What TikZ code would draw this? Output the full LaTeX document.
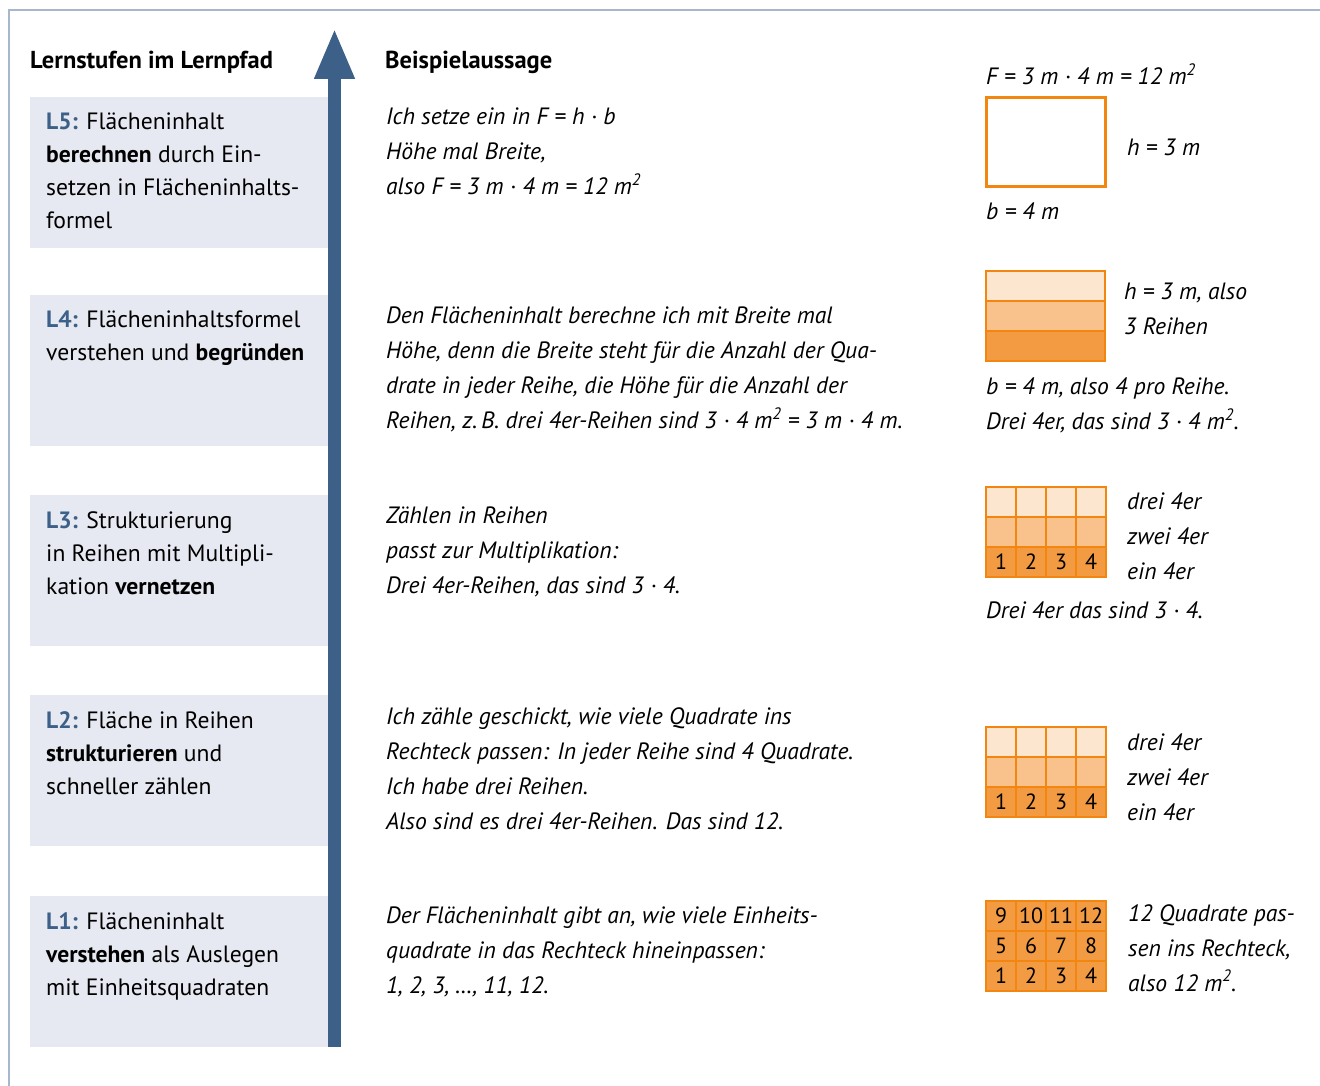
\documentclass[tikz,border=0pt]{standalone}
\usepackage{fontspec}
\setmainfont{PT Sans}
\usetikzlibrary{arrows.meta}
\definecolor{pfadblau}{HTML}{3C6087}
\definecolor{rahmen}{HTML}{A8B7CB}
\definecolor{stufegrau}{HTML}{E6E9F1}
\definecolor{kante}{HTML}{F2860F}
\definecolor{hell}{HTML}{FDE6CF}
\definecolor{mittel}{HTML}{F9C18B}
\definecolor{dunkel}{HTML}{F29B42}
\tikzset{
  stufe/.style={anchor=north west,inner sep=0,align=left,font=\fontsize{23.6}{33}\selectfont},
  hand/.style={anchor=north west,inner sep=0,align=left,font=\fontsize{23.6}{35}\selectfont\itshape},
  kopf/.style={anchor=west,inner sep=0,font=\fontsize{24.5}{28}\selectfont\bfseries},
  zahl/.style={inner sep=0,font=\fontsize{22}{24}\selectfont},
  zelle/.style={draw=kante,line width=2pt},
}
\newcommand{\lstufe}[1]{\textcolor{pfadblau}{\bfseries #1}}

\begin{document}
\begin{tikzpicture}[x=1pt,y=-1pt]
            \useasboundingbox (0,0) rectangle (1320,1086);
            \fill[white] (0,0) rectangle (1320,1086);
            \draw[rahmen,line width=1.5pt] (9,1086)--(9,10)--(1320,10);
            % Stufen links
            \foreach \y in {97,295,495,695,896}
                \fill[stufegrau] (30,\y) rectangle (328,\y+151);
            \draw[pfadblau,line width=13pt,-{Triangle[width=37pt,length=51pt]}] (334.5,1047)--(334.5,28);
            \node[kopf] (kopfstufen) at (30,62) {Lernstufen im Lernpfad};
            \node[kopf] (kopfbsp) at (385,62) {Beispielaussage};
            \node[stufe] (l5) at (46,113) {\lstufe{L5:} Flächeninhalt\\\textbf{berechnen} durch Ein-\\setzen in Flächeninhalts-\\formel};
            \node[stufe] (l4) at (46,311) {\lstufe{L4:} Flächeninhaltsformel\\verstehen und \textbf{begründen}};
            \node[stufe] (l3) at (46,511) {\lstufe{L3:} Strukturierung\\in Reihen mit Multipli-\\kation \textbf{vernetzen}};
            \node[stufe] (l2) at (46,711) {\lstufe{L2:} Fläche in Reihen\\\textbf{strukturieren} und\\schneller zählen};
            \node[stufe] (l1) at (46,912) {\lstufe{L1:} Flächeninhalt\\\textbf{verstehen} als Auslegen\\mit Einheitsquadraten};
            % Beispielaussagen
            \node[hand] (bsp5) at (386,108) {Ich setze ein in F = h · b\\Höhe mal Breite,\\also F = 3 m · 4 m = 12 m\textsuperscript{2}};
            \node[hand] (bsp4) at (386,307) {Den Flächeninhalt berechne ich mit Breite mal\\Höhe, denn die Breite steht für die Anzahl der Qua-\\drate in jeder Reihe, die Höhe für die Anzahl der\\Reihen, z.\,B. drei 4er-Reihen sind 3 · 4 m\textsuperscript{2} = 3 m · 4 m.};
            \node[hand] (bsp3) at (386,507) {Zählen in Reihen\\passt zur Multiplikation:\\Drei 4er-Reihen, das sind 3 · 4.};
            \node[hand] (bsp2) at (386,707) {Ich zähle geschickt, wie viele Quadrate ins\\Rechteck passen: In jeder Reihe sind 4 Quadrate.\\Ich habe drei Reihen.\\Also sind es drei 4er-Reihen. Das sind 12.};
            \node[hand] (bsp1) at (386,907) {Der Flächeninhalt gibt an, wie viele Einheits-\\quadrate in das Rechteck hineinpassen:\\1, 2, 3, …, 11, 12.};
            % L5: Rechteck
            \node[hand] (formel5) at (986,64) {F = 3 m · 4 m = 12 m\textsuperscript{2}};
            \draw[kante,line width=3pt] (986,98) rectangle (1105,187);
            \node[hand] (hoehe5) at (1127,139) {h = 3 m};
            \node[hand] (breite5) at (986,203) {b = 4 m};
            % L4: drei Reihen
            \foreach \r/\f in {0/hell,1/mittel,2/dunkel}
                \draw[zelle,fill=\f] (986,271+30*\r) rectangle ++(119,30);
            \node[hand] (hoehe4) at (1124,283) {h = 3 m, also\\3 Reihen};
            \node[hand] (breite4) at (986,378) {b = 4 m, also 4 pro Reihe.\\Drei 4er, das sind 3 · 4 m\textsuperscript{2}.};
            % L3 und L2: Raster mit 4er-Reihen
            \foreach \y in {487,727}
                \foreach \r/\f in {0/hell,1/mittel,2/dunkel}
                    \foreach \c in {0,...,3}
                        \draw[zelle,fill=\f] (986+30*\c,\y+30*\r) rectangle ++(30,30);
            \foreach \c in {1,...,4} {
                \node[zahl] (drei\c) at (971+30*\c,562) {\c};
                \node[zahl] (zwei\c) at (971+30*\c,802) {\c};
            }
            \node[hand] (reihen3) at (1127,493) {drei 4er\\zwei 4er\\ein 4er};
            \node[hand] (satz3) at (986,602) {Drei 4er das sind 3 · 4.};
            \node[hand] (reihen2) at (1127,734) {drei 4er\\zwei 4er\\ein 4er};
            % L1: Einheitsquadrate
            \foreach \r in {0,1,2}
                \foreach \c in {0,...,3}
                    \draw[zelle,fill=dunkel] (986+30*\c,901+30*\r) rectangle ++(30,30);
            \foreach \n in {1,...,12}
                \node[zahl] (eins\n) at ({1001+30*mod(\n-1,4)},{976-30*div(\n-1,4)}) {\n};
            \node[hand] (quadrate1) at (1128,904) {12 Quadrate pas-\\sen ins Rechteck,\\also 12 m\textsuperscript{2}.};
        \end{tikzpicture}
\end{document}
